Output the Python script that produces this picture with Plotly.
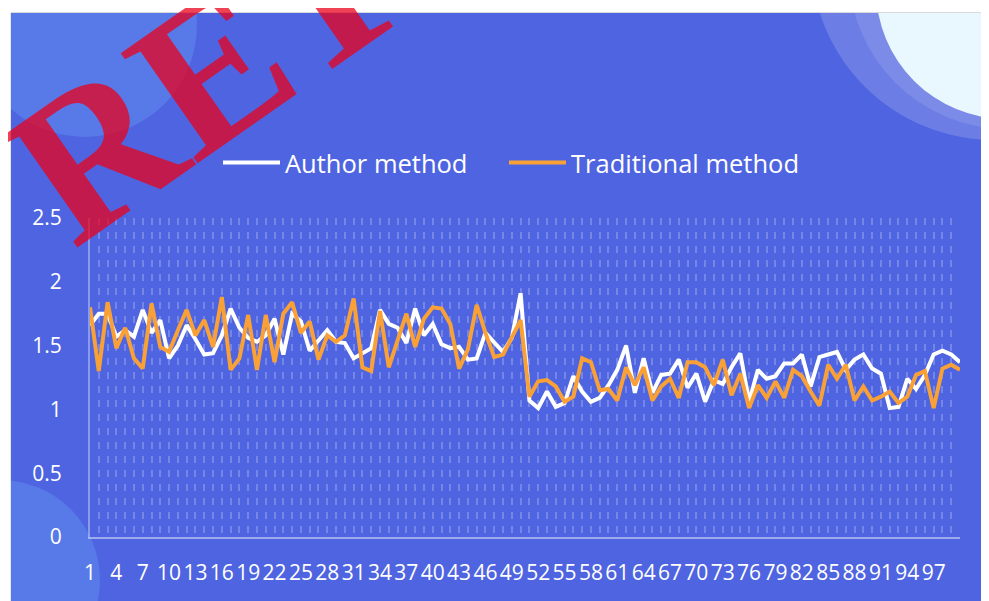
import plotly.graph_objects as go

# ---------------- data ----------------
categories = list(range(1, 101))
tick_labels = [str(c) if (c - 1) % 3 == 0 and c <= 97 else "" for c in categories]

author_method = [
    1.66, 1.75, 1.75, 1.57, 1.62, 1.57, 1.78, 1.60, 1.70, 1.40,
    1.50, 1.66, 1.55, 1.43, 1.44, 1.58, 1.79, 1.64, 1.56, 1.53,
    1.58, 1.71, 1.43, 1.75, 1.69, 1.46, 1.54, 1.62, 1.53, 1.52,
    1.40, 1.44, 1.48, 1.78, 1.67, 1.64, 1.52, 1.79, 1.58, 1.67,
    1.51, 1.48, 1.49, 1.39, 1.40, 1.60, 1.53, 1.45, 1.56, 1.91,
    1.07, 1.01, 1.14, 1.02, 1.05, 1.26, 1.14, 1.06, 1.09, 1.19,
    1.31, 1.50, 1.13, 1.40, 1.13, 1.27, 1.28, 1.39, 1.17, 1.28,
    1.06, 1.23, 1.20, 1.33, 1.44, 1.06, 1.31, 1.24, 1.26, 1.36,
    1.36, 1.43, 1.18, 1.41, 1.43, 1.45, 1.31, 1.39, 1.43, 1.32,
    1.28, 1.01, 1.02, 1.24, 1.16, 1.27, 1.43, 1.46, 1.43, 1.37,
]
traditional_method = [
    1.80, 1.30, 1.84, 1.48, 1.64, 1.40, 1.32, 1.83, 1.49, 1.45,
    1.62, 1.78, 1.58, 1.70, 1.49, 1.88, 1.31, 1.40, 1.74, 1.31,
    1.74, 1.37, 1.75, 1.84, 1.60, 1.69, 1.39, 1.58, 1.53, 1.58,
    1.87, 1.33, 1.30, 1.77, 1.33, 1.54, 1.75, 1.49, 1.71, 1.80,
    1.79, 1.67, 1.32, 1.47, 1.82, 1.60, 1.41, 1.43, 1.57, 1.70,
    1.10, 1.22, 1.23, 1.18, 1.06, 1.10, 1.40, 1.37, 1.15, 1.16,
    1.07, 1.33, 1.19, 1.33, 1.07, 1.18, 1.24, 1.09, 1.37, 1.37,
    1.33, 1.19, 1.39, 1.11, 1.28, 1.01, 1.19, 1.09, 1.22, 1.09,
    1.31, 1.26, 1.14, 1.03, 1.35, 1.24, 1.35, 1.07, 1.18, 1.07,
    1.10, 1.14, 1.05, 1.10, 1.27, 1.30, 1.01, 1.32, 1.35, 1.31,
]
y_ticks = [0, 0.5, 1, 1.5, 2, 2.5]
y_tick_labels = ["0", "0.5", "1", "1.5", "2", "2.5"]
series_names = ["Author method", "Traditional method"]
watermark = "RETRACTED"

# ---------------- layout geometry (target positions in window pixels) ----------------
OFF = 8                      # page body margin
W, H = 989, 601
PLOT_X0, PLOT_X1, PLOT_Y0, PLOT_Y1 = 90, 960, 218, 537
L, T = PLOT_X0 - OFF, PLOT_Y0 - OFF
R, B = W - (PLOT_X1 - OFF), H - (PLOT_Y1 - OFF)
PW, PH = PLOT_X1 - PLOT_X0, PLOT_Y1 - PLOT_Y0


def px(x, y):
    """window pixel position -> paper coordinates"""
    return (x - PLOT_X0) / PW, (PLOT_Y1 - y) / PH


def rect(x0, y0, x1, y1, fill, kind="rect"):
    a0, b1 = px(x0, y0)
    a1, b0 = px(x1, y1)
    return dict(type=kind, xref="paper", yref="paper", x0=a0, x1=a1, y0=b0, y1=b1,
                fillcolor=fill, layer="below", line=dict(width=0))


def circle(cx, cy, r, fill):
    return rect(cx - r, cy - r, cx + r, cy + r, fill, kind="circle")


def seg(x0, y0, x1, y1, color):
    a0, b0 = px(x0, y0)
    a1, b1 = px(x1, y1)
    return dict(type="line", xref="paper", yref="paper", x0=a0, x1=a1, y0=b0, y1=b1,
                line=dict(color=color, width=1), layer="below")


BG = "#4F64E0"
shapes = [
    rect(11, 13, 1000, 610, BG),
    circle(85, 25, 112, "rgba(110,180,255,0.28)"),
    circle(0, 580, 100, "rgba(110,180,255,0.28)"),
    circle(994, -43, 183, "rgba(255,255,255,0.17)"),
    circle(1007, -29, 158, "rgba(255,255,255,0.10)"),
    circle(1006, -11, 130, "#E9F7FE"),
    rect(0, 0, 1000, 12.5, "white"),
    rect(0, 0, 10.5, 610, "white"),
    seg(11, 12.5, 1000, 12.5, "#DADADA"),
    seg(10.5, 13, 10.5, 610, "#E6E6E6"),
]

FONT = "Open Sans"
fig = go.Figure()
fig.add_trace(go.Scatter(x=categories, y=author_method, mode="lines", name=series_names[0],
                         line=dict(color="#FFFFFF", width=4), legend="legend"))
fig.add_trace(go.Scatter(x=categories, y=traditional_method, mode="lines", name=series_names[1],
                         line=dict(color="#F9A136", width=4), legend="legend2"))

wx, wy = px(560, -176)
l1x, ly = px(218, 163)
l2x, _ = px(504, 163)
legend_style = dict(orientation="h", xanchor="left", y=ly, yanchor="middle",
                    font=dict(size=25.5, color="white", family=FONT),
                    bgcolor="rgba(0,0,0,0)", itemwidth=57)
fig.update_layout(
    width=W, height=H, autosize=False,
    margin=dict(l=L, r=R, t=T, b=B, pad=0, autoexpand=False),
    paper_bgcolor="white", plot_bgcolor="rgba(0,0,0,0)",
    shapes=shapes,
    font=dict(family=FONT, color="white"),
    showlegend=True,
    legend=dict(x=l1x, **legend_style),
    legend2=dict(x=l2x, **legend_style),
    xaxis=dict(range=[1, 100], tickmode="array", tickvals=categories, ticktext=tick_labels,
               tickangle=0, automargin=False,
               showgrid=True, gridcolor="rgba(255,255,255,0.22)", gridwidth=1.5,
               griddash="7px,7px", zeroline=False,
               showline=True, linecolor="rgba(255,255,255,0.45)", linewidth=2,
               ticks="", tickfont=dict(size=21, color="white", family=FONT),
               ticklabelstandoff=16, fixedrange=True),
    yaxis=dict(range=[0, 2.5], tickmode="array", tickvals=y_ticks, ticktext=y_tick_labels,
               automargin=False,
               showgrid=False, zeroline=False,
               showline=True, linecolor="rgba(255,255,255,0.35)", linewidth=2,
               ticks="", tickfont=dict(size=21, color="white", family=FONT),
               ticklabelstandoff=22, fixedrange=True),
    annotations=[dict(text="<b>" + watermark + "</b>", xref="paper", yref="paper", x=wx, y=wy,
                      xanchor="center", yanchor="middle", showarrow=False, textangle=-35,
                      font=dict(family="Liberation Serif", size=205, color="rgba(235,0,25,0.74)"))],
)

fig.write_html("out.html")
